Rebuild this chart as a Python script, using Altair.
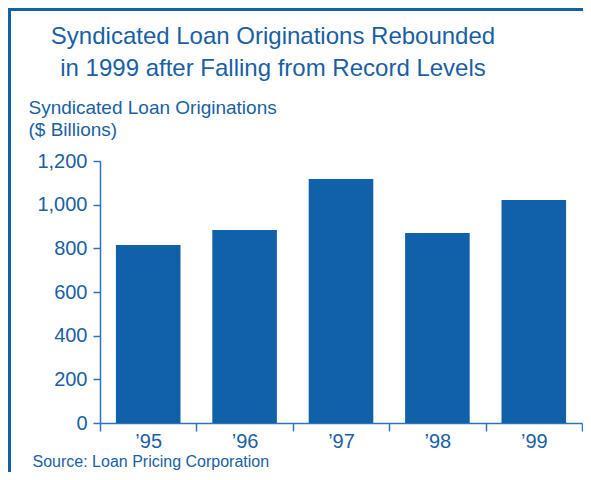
import altair as alt
import pandas as pd

years = ["\u201995", "\u201996", "\u201997", "\u201998", "\u201999"]
originations = [815, 884, 1118, 870, 1021]
y_ticks = [0, 200, 400, 600, 800, 1000, 1200]

title_lines = ["Syndicated Loan Originations Rebounded", "in 1999 after Falling from Record Levels"]
y_title = ["Syndicated Loan Originations", "\u00a0($ Billions)"]
source = "Source: Loan Pricing Corporation"

BAR = "#1061a9"
TXT = "#1a5fa5"
AX = "#2f74b8"
FONT = "Liberation Sans"

df = pd.DataFrame({"year": years, "value": originations})

bars = alt.Chart(df).mark_bar(color=BAR, width=alt.RelativeBandSize(0.67)).encode(
    x=alt.X(
        "year:N",
        sort=years,
        scale=alt.Scale(paddingInner=0, paddingOuter=0),
        axis=alt.Axis(
            title=source,
            titleX=-68,
            titleY=43,
            titleAlign="left",
            titleBaseline="alphabetic",
            titleFontSize=16,
            titleFontWeight="normal",
            titleColor=TXT,
            titleFont=FONT,
            labelAngle=0,
            labelFontSize=20,
            labelColor=TXT,
            labelFont=FONT,
            labelPadding=0,
            tickBand="extent",
            tickSize=8,
            tickColor=AX,
            domainColor=AX,
            tickWidth=1.5,
            domainWidth=1.5,
        ),
    ),
    y=alt.Y(
        "value:Q",
        scale=alt.Scale(domain=[0, 1200], nice=False),
        axis=alt.Axis(
            values=y_ticks,
            format=",.0f",
            grid=False,
            title=y_title,
            titleAngle=0,
            titleX=-72,
            titleY=-48,
            titleAlign="left",
            titleBaseline="alphabetic",
            titleLineHeight=22,
            titleFontSize=19,
            titleFontWeight="normal",
            titleColor=TXT,
            titleFont=FONT,
            labelFontSize=20,
            labelColor=TXT,
            labelFont=FONT,
            labelPadding=6,
            tickSize=7,
            tickColor=AX,
            domainColor=AX,
            tickWidth=1.5,
            domainWidth=1.5,
        ),
    ),
)

frame_df = pd.DataFrame({"f": [0]})
left_border = alt.Chart(frame_df).mark_rule(color=BAR, strokeWidth=3).encode(
    x=alt.value(-90.5), y=alt.value(-152), y2=alt.value(330)
)
top_border = alt.Chart(frame_df).mark_rule(color=BAR, strokeWidth=3).encode(
    x=alt.value(-92), x2=alt.value(495), y=alt.value(-151.5)
)

chart = (
    alt.layer(bars, left_border, top_border)
    .properties(
        width=482,
        height=262,
        autosize=alt.AutoSizeParams(type="none"),
        padding={"left": 92, "top": 153, "right": 1, "bottom": 49},
        title=alt.TitleParams(
            text=title_lines,
            anchor="middle",
            frame="group",
            dx=-68,
            dy=73,
            fontSize=24,
            fontWeight="normal",
            color=TXT,
            font=FONT,
            lineHeight=32,
            offset=0,
        ),
    )
    .configure_view(stroke=None)
)

chart.save("out.html", embed_options={"renderer": "svg", "actions": False})
